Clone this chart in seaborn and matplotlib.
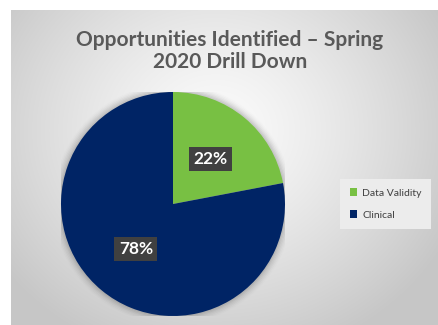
import numpy as np
import matplotlib
matplotlib.use("Agg")
import matplotlib.pyplot as plt
import seaborn as sns

categories = ["Data Validity", "Clinical"]
values = [22, 78]
title = "Opportunities Identified \u2013 Spring\n2020 Drill Down"

sns.set_theme(style="white")
plt.rcParams['font.family'] = ['Lato', 'DejaVu Sans']

colors = ["#78c043", "#002465"]

W, H = 438, 325
fig = plt.figure(figsize=(W / 100, H / 100), dpi=100)
fig.patch.set_facecolor("white")

# background panel with radial gradient
bg = fig.add_axes([11 / W, 0, (W - 11) / W, (H - 10) / H])
bx0, by0 = 11, 10
yy, xx = np.mgrid[by0:H, bx0:W]
d = np.sqrt(((xx - 215) / 1.0) ** 2 + ((yy - 130) / 0.9) ** 2)
t = np.clip(d / 260, 0, 1)
g = 0.985 - (0.985 - 0.78) * t ** 1.3
img = np.dstack([g, g, g])
bg.imshow(img, aspect="auto", interpolation="bilinear")
bg.set_axis_off()

# pie
cx, cy, r = 173, 204, 112
ax = fig.add_axes([(cx - r) / W, (H - cy - r) / H, 2 * r / W, 2 * r / H])
ax.set_facecolor("none")
# soft shadow
for i, a in enumerate(np.linspace(0.05, 0.012, 6)):
    ax.add_patch(plt.Circle((0.0, -0.0), 1.0 + 0.012 * (i + 1), color="black", alpha=a, lw=0, zorder=0))
wedges, texts, autotexts = ax.pie(
    values, colors=colors, startangle=90, counterclock=False,
    autopct="%d%%", pctdistance=0.52, radius=1.0,
    wedgeprops=dict(linewidth=0),
    textprops=dict(color="white", fontsize=12.5, fontweight="bold"),
)
for at in autotexts:
    at.set_bbox(dict(boxstyle="square,pad=0.25", facecolor="#404040", edgecolor="none"))
    at.set_zorder(5)
ax.set_xlim(-1.0, 1.0)
ax.set_ylim(-1.0, 1.0)
ax.set_aspect("auto")
ax.set_axis_off()

fig.text(230 / W, 1 - 51 / H, title, ha="center", va="center",
         fontsize=15, fontweight="bold", color="#595959", linespacing=1.08)

leg = fig.legend(wedges, categories, loc="center left",
                 bbox_to_anchor=(335 / W, 1 - 204 / H),
                 frameon=True, fontsize=7.5, handlelength=0.7, handleheight=0.7,
                 handletextpad=0.5, labelspacing=1.2, borderpad=0.9,
                 labelcolor="#404040")
leg.get_frame().set_facecolor("#ececec")
leg.get_frame().set_edgecolor("none")
leg.get_frame().set_alpha(1)
leg.get_frame().set_boxstyle("square,pad=0")

fig.savefig("out.png", dpi=100)
